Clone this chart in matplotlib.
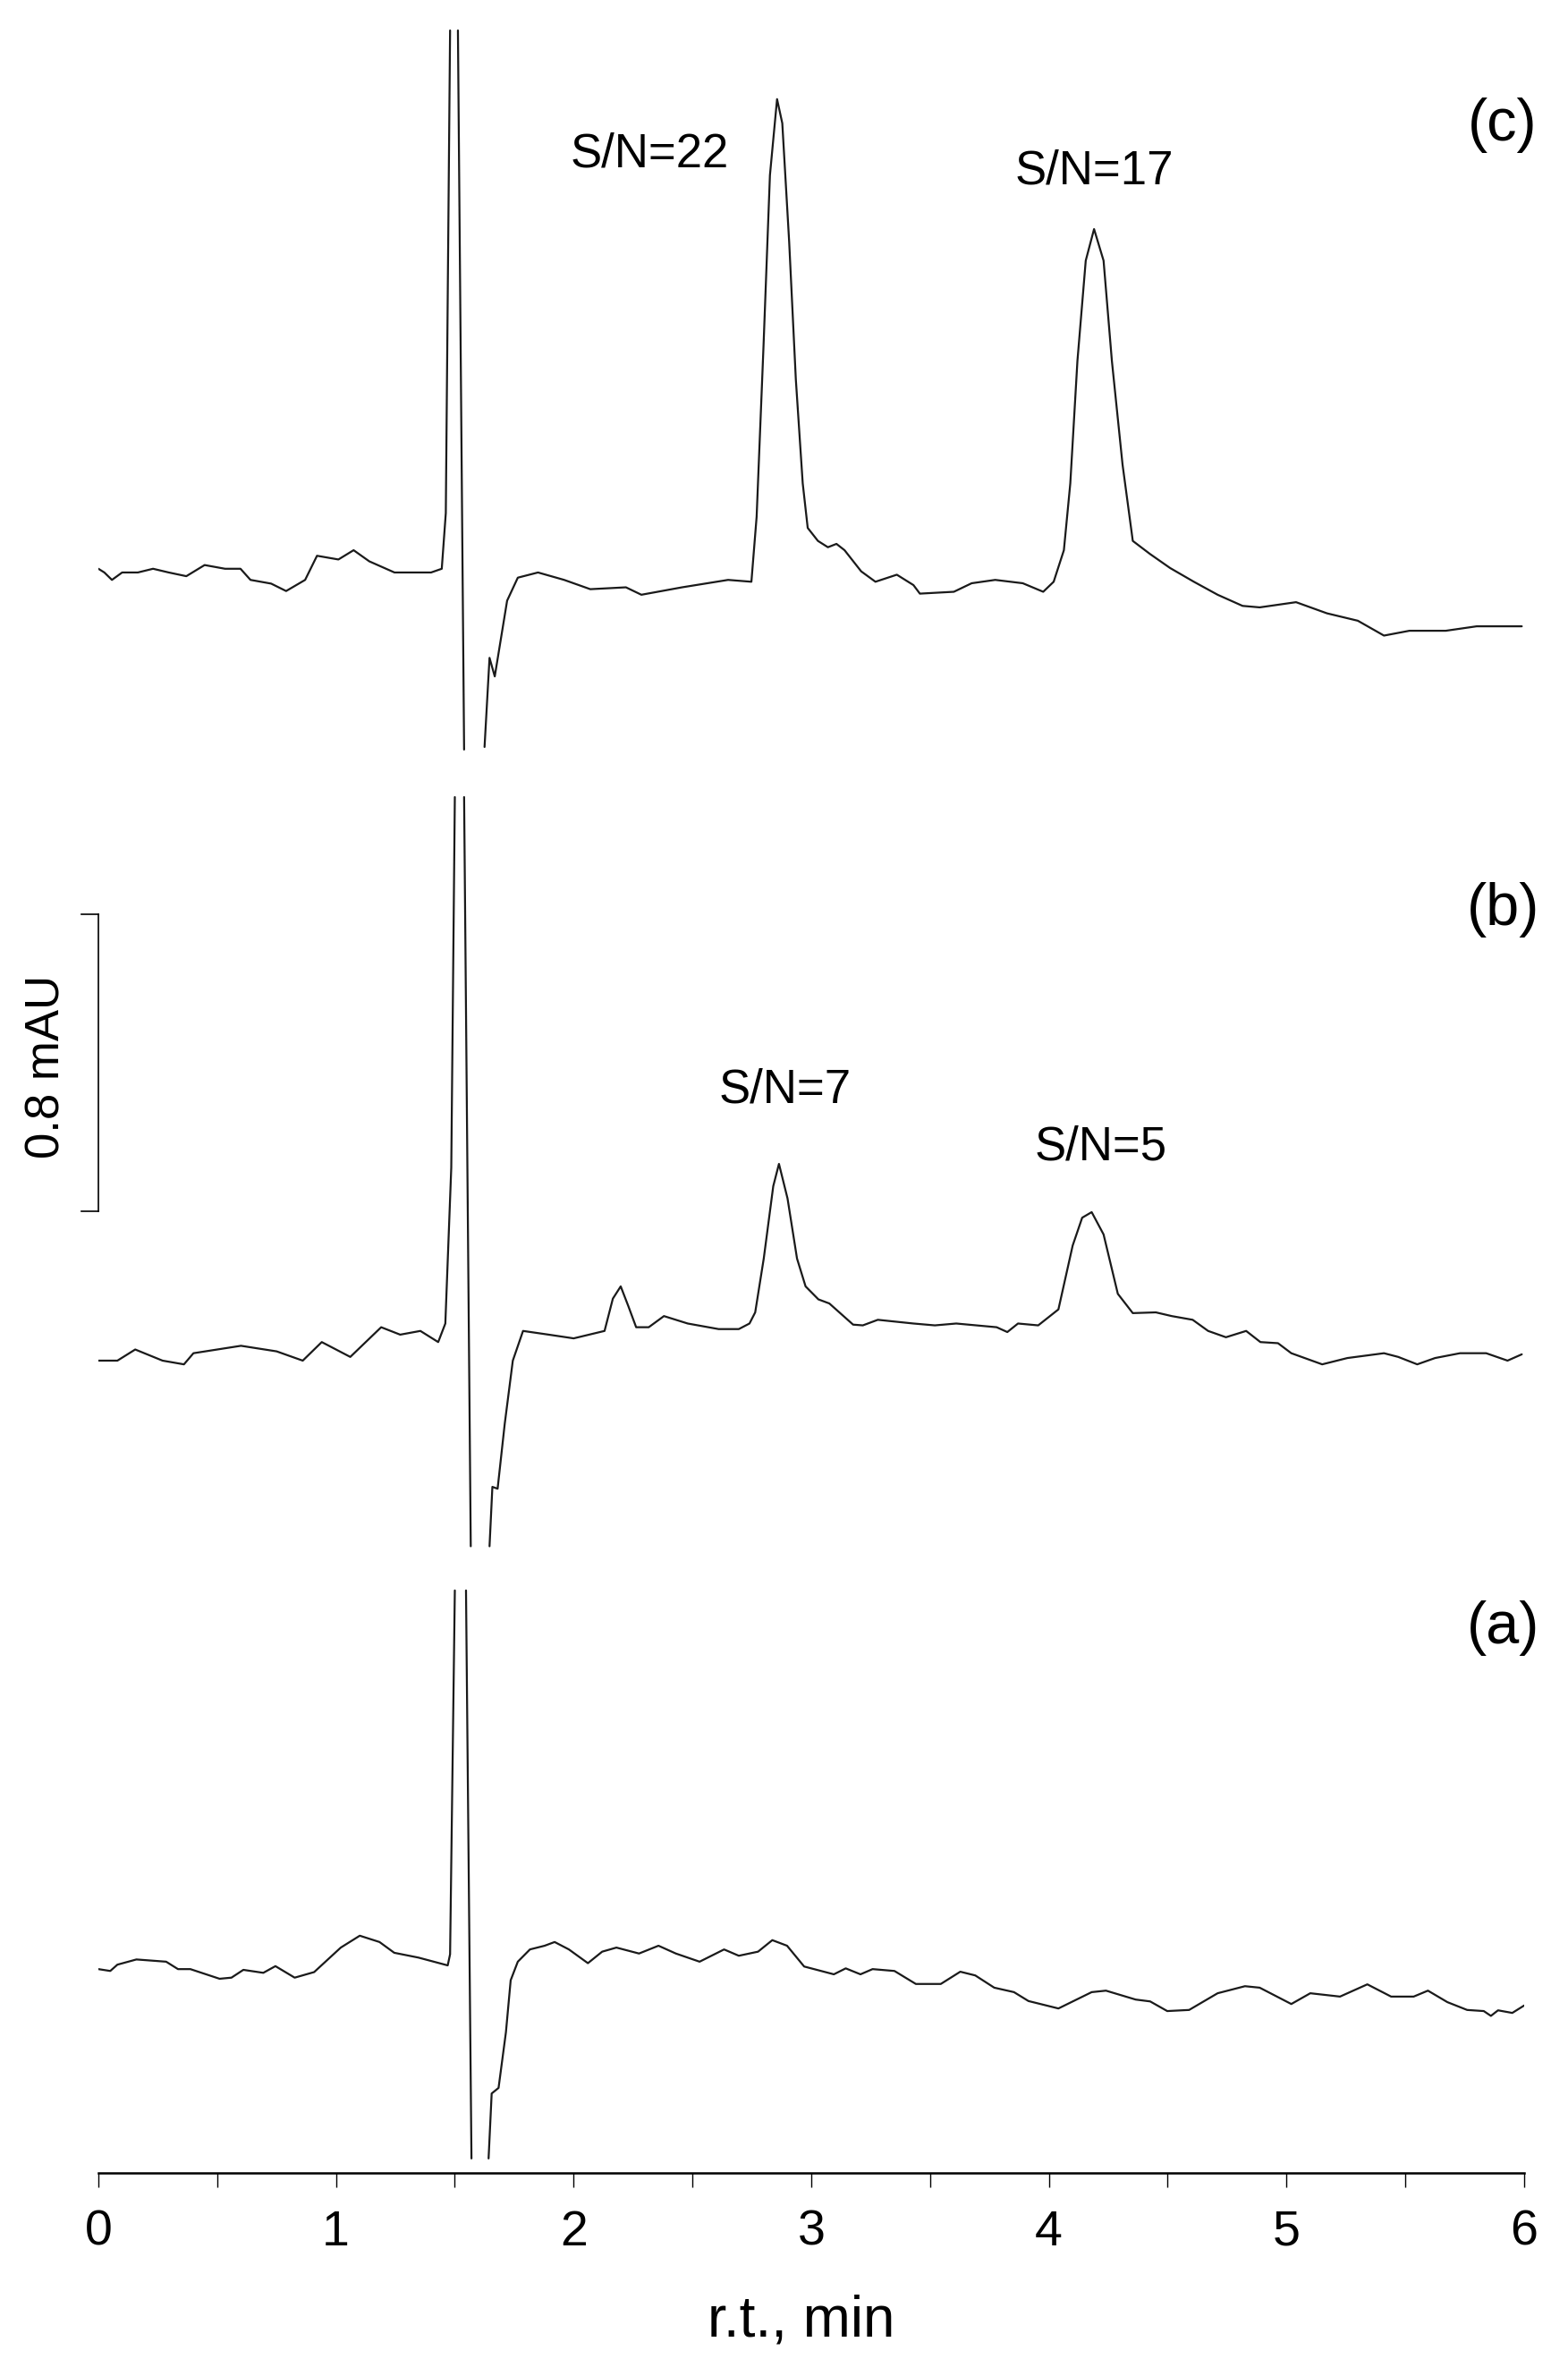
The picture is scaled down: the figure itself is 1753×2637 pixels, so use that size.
import numpy as np
import matplotlib
matplotlib.use("Agg")
import matplotlib.pyplot as plt
from matplotlib.ticker import MultipleLocator

plt.rcParams['font.family'] = ['Liberation Sans', 'DejaVu Sans']

nan = np.nan

# chromatogram (a): time in min, signal in mAU relative to its own baseline
t_a = [0.0, 0.05, 0.08, 0.16, 0.285, 0.335, 0.387, 0.51, 0.56, 0.61, 0.694, 0.745, 0.826, 0.908,
       1.02, 1.10, 1.183, 1.245, 1.347, 1.47, 1.48, 1.50, 1.52, 1.547, 1.57, 1.60, 1.642, 1.655,
       1.684, 1.715, 1.735, 1.765, 1.816, 1.878, 1.92, 1.98, 2.06, 2.12, 2.18, 2.275, 2.357,
       2.43, 2.53, 2.633, 2.695, 2.776, 2.836, 2.898, 2.97, 3.095, 3.145, 3.207, 3.258, 3.35,
       3.44, 3.545, 3.627, 3.69, 3.77, 3.853, 3.914, 4.04, 4.18, 4.24, 4.365, 4.426, 4.498,
       4.59, 4.71, 4.825, 4.887, 5.02, 5.10, 5.225, 5.34, 5.44, 5.535, 5.595, 5.677, 5.76,
       5.83, 5.86, 5.89, 5.95, 6.0]
y_a = [0.0, -0.005, 0.012, 0.026, 0.02, 0.0, 0.0, -0.026, -0.023, -0.002, -0.01, 0.008, -0.023, -0.008,
       0.058, 0.09, 0.073, 0.044, 0.031, 0.01, 0.04, 1.02, nan, 1.02, -0.51, nan, -0.51, -0.335,
       -0.32, -0.17, -0.03, 0.02, 0.053, 0.063, 0.073, 0.053, 0.016, 0.047, 0.058, 0.042, 0.063,
       0.042, 0.02, 0.053, 0.036, 0.047, 0.078, 0.063, 0.007, -0.014, 0.002, -0.014, 0.0, -0.005,
       -0.04, -0.04, -0.007, -0.017, -0.05, -0.062, -0.086, -0.106, -0.062, -0.058, -0.082, -0.087, -0.113,
       -0.11, -0.065, -0.046, -0.05, -0.094, -0.065, -0.074, -0.041, -0.074, -0.074, -0.058, -0.089, -0.11,
       -0.113, -0.126, -0.111, -0.118, -0.098]

# chromatogram (b)
t_b = [0.0, 0.08, 0.155, 0.27, 0.36, 0.40, 0.6, 0.75, 0.86, 0.94, 1.06, 1.19, 1.27, 1.355, 1.43,
       1.46, 1.485, 1.50, 1.52, 1.539, 1.567, 1.60, 1.646, 1.658, 1.68, 1.71, 1.744, 1.787, 1.895,
       2.0, 2.13, 2.165, 2.198, 2.23, 2.263, 2.316, 2.38, 2.48, 2.61, 2.695, 2.74, 2.764, 2.80,
       2.84, 2.864, 2.90, 2.94, 2.976, 3.03, 3.076, 3.176, 3.217, 3.28, 3.43, 3.52, 3.61,
       3.78, 3.825, 3.87, 3.955, 4.04, 4.10, 4.14, 4.18, 4.23, 4.29, 4.353, 4.45,
       4.517, 4.605, 4.67, 4.745, 4.83, 4.89, 4.964, 5.02, 5.15, 5.256, 5.41, 5.47, 5.55, 5.625,
       5.73, 5.84, 5.93, 5.99]
y_b = [0.0, 0.0, 0.03, 0.0, -0.01, 0.02, 0.04, 0.025, 0.0, 0.05, 0.01, 0.09, 0.07, 0.08, 0.05,
       0.1, 0.52, 1.518, nan, 1.518, -0.50, nan, -0.50, -0.34, -0.345, -0.17, 0.0, 0.08, 0.07,
       0.06, 0.08, 0.167, 0.20, 0.147, 0.09, 0.09, 0.12, 0.10, 0.085, 0.085, 0.10, 0.13, 0.275,
       0.47, 0.53, 0.437, 0.275, 0.2, 0.165, 0.154, 0.097, 0.095, 0.11, 0.10, 0.095, 0.10,
       0.09, 0.077, 0.10, 0.095, 0.138, 0.31, 0.385, 0.40, 0.34, 0.18, 0.128, 0.13,
       0.12, 0.11, 0.08, 0.063, 0.08, 0.05, 0.047, 0.02, -0.01, 0.007, 0.02, 0.01, -0.01, 0.007,
       0.02, 0.02, 0.0, 0.017]

# chromatogram (c)
t_c = [0.0, 0.025, 0.057, 0.10, 0.166, 0.23, 0.296, 0.37, 0.447, 0.533, 0.598, 0.64, 0.727, 0.79,
       0.87, 0.92, 1.01, 1.074, 1.14, 1.246, 1.31, 1.40, 1.445, 1.462, 1.48, 1.497, 1.513, 1.539,
       1.58, 1.625, 1.646, 1.668, 1.72, 1.765, 1.85, 1.96, 2.07, 2.22, 2.285, 2.456, 2.65, 2.748,
       2.77, 2.799, 2.826, 2.856, 2.878, 2.907, 2.935, 2.964, 2.985, 3.028, 3.07, 3.106, 3.14,
       3.21, 3.27, 3.36, 3.43, 3.457, 3.60, 3.675, 3.774, 3.89, 3.976, 4.02, 4.063, 4.09, 4.12,
       4.155, 4.19, 4.23, 4.265, 4.31, 4.353, 4.425, 4.51, 4.61, 4.71, 4.815, 4.887, 5.04, 5.17,
       5.30, 5.41, 5.517, 5.67, 5.8, 5.99]
y_c = [0.01, 0.0, -0.02, 0.0, 0.0, 0.01, 0.0, -0.01, 0.02, 0.01, 0.01, -0.02, -0.03, -0.05,
       -0.02, 0.045, 0.035, 0.06, 0.03, 0.0, 0.0, 0.0, 0.01, 0.16, 1.46, nan, 1.46, -0.477,
       nan, -0.47, -0.23, -0.28, -0.076, -0.014, 0.0, -0.02, -0.045, -0.04, -0.06, -0.04, -0.02, -0.025,
       0.15, 0.61, 1.07, 1.275, 1.21, 0.89, 0.52, 0.24, 0.12, 0.085, 0.068, 0.077, 0.06,
       0.003, -0.025, -0.006, -0.034, -0.057, -0.052, -0.029, -0.02, -0.029, -0.052, -0.025, 0.06, 0.24, 0.57,
       0.84, 0.925, 0.84, 0.57, 0.29, 0.085, 0.05, 0.012, -0.025, -0.06, -0.09, -0.094, -0.08, -0.11,
       -0.13, -0.17, -0.157, -0.157, -0.145, -0.145]

traces = [(t_a, y_a), (t_b, y_b), (t_c, y_c)]
panel_names = ['(a)', '(b)', '(c)']
sn_labels = ['S/N=22', 'S/N=17', 'S/N=7', 'S/N=5']

# vertical offsets of the stacked traces (mAU)
offsets = [0.549, 2.188, 4.311]
px_per_mau = 415.0

fig = plt.figure(figsize=(17.53, 26.37), dpi=100)
W, H = 1753.0, 2637.0
x0, x1, ybot = 110.0, 1704.0, 2429.0
ax = fig.add_axes([x0 / W, (H - ybot) / H, (x1 - x0) / W, ybot / H])

for (t, y), off in zip(traces, offsets):
    ax.plot(t, np.array(y) + off, color='#1a1a1a', lw=1.6,
            solid_joinstyle='round', solid_capstyle='round')

ax.set_xlim(0, 6)
ax.set_ylim(0, ybot / px_per_mau)

for s in ['left', 'right', 'top']:
    ax.spines[s].set_visible(False)
ax.spines['bottom'].set_linewidth(1.8)
ax.set_yticks([])
ax.xaxis.set_major_locator(MultipleLocator(1))
ax.xaxis.set_minor_locator(MultipleLocator(0.5))
ax.tick_params(axis='x', which='both', direction='out', length=11.5, width=1.0, color='black')
ax.tick_params(axis='x', which='major', labelsize=40, pad=18)

fig.text(0.511, (H - 2611) / H, 'r.t., min', fontsize=46, ha='center', va='baseline')

# scale bar 0.8 mAU
bar_lo, bar_hi = 2.59, 3.39
ax.plot([0, 0], [bar_lo, bar_hi], color='black', lw=1.2, clip_on=False)
ax.plot([-0.072, 0], [bar_lo, bar_lo], color='black', lw=1.2, clip_on=False)
ax.plot([-0.072, 0], [bar_hi, bar_hi], color='black', lw=1.2, clip_on=False)
ax.text(-0.218, 2.98, '0.8 mAU', rotation=90, fontsize=38, ha='center', va='center')

# panel letters
ax.text(5.91, 1.468, panel_names[0], fontsize=48, ha='center', va='center')
ax.text(5.91, 3.402, panel_names[1], fontsize=48, ha='center', va='center')
ax.text(5.91, 5.516, panel_names[2], fontsize=48, ha='center', va='center')

# S/N annotations
ax.text(2.318, 5.403, sn_labels[0], fontsize=38, ha='center', va='baseline')
ax.text(4.19, 5.359, sn_labels[1], fontsize=38, ha='center', va='baseline')
ax.text(2.89, 2.884, sn_labels[2], fontsize=38, ha='center', va='baseline')
ax.text(4.217, 2.730, sn_labels[3], fontsize=38, ha='center', va='baseline')

fig.savefig('out.png', dpi=100)
